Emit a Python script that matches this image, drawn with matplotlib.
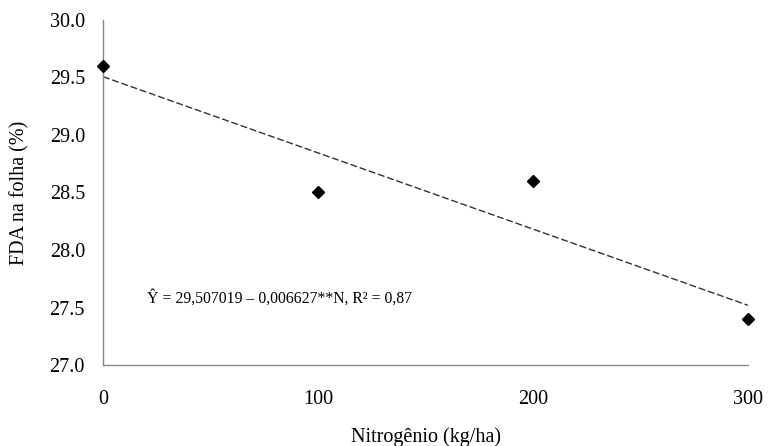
import matplotlib
matplotlib.use("Agg")
import matplotlib.pyplot as plt
import numpy as np

plt.rcParams['font.family'] = ['Liberation Serif', 'DejaVu Serif']

nitrogen = [0, 100, 200, 300]
fda = [29.6, 28.5, 28.6, 27.4]
intercept = 29.507019
slope = -0.006627
xticks = [0, 100, 200, 300]
yticks = [27.0, 27.5, 28.0, 28.5, 29.0, 29.5, 30.0]

fig = plt.figure(figsize=(7.69, 4.46), dpi=100)
ax = fig.add_axes([0.134, 0.1816, 0.8387, 0.7736])

fx = np.array([nitrogen[0], nitrogen[-1]])
ax.plot(fx, intercept + slope * fx, linestyle=(0, (5, 2)), color='#333333', linewidth=1.0, zorder=2)
ax.plot(nitrogen, fda, linestyle='none', marker='D', markersize=6.5, color='black', zorder=3, clip_on=False)

ax.set_xlim(0, 300)
ax.set_ylim(27.0, 30.0)
ax.set_xticks(xticks)
ax.set_xticklabels([str(v) for v in xticks])
ax.set_yticks(yticks)
ax.set_yticklabels([f"{v:.1f}" for v in yticks])
ax.tick_params(axis='both', length=0, labelsize=14.5)
ax.tick_params(axis='x', pad=18)
ax.tick_params(axis='y', pad=13)

for s in ['top', 'right']:
    ax.spines[s].set_visible(False)
for s in ['left', 'bottom']:
    ax.spines[s].set_color('#868686')
    ax.spines[s].set_linewidth(1.0)

ax.set_xlabel('Nitrogênio (kg/ha)', fontsize=14.5, va='center')
ax.xaxis.set_label_coords(0.5, -0.2086)
ax.set_ylabel('FDA na folha (%)', fontsize=14.5, va='center')
ax.yaxis.set_label_coords(-0.1287, 0.5)

ax.text(20.5, 27.58, 'Ŷ = 29,507019 – 0,006627**N, R² = 0,87', fontsize=11.3, va='center', ha='left')

fig.savefig('out.png', dpi=100)
